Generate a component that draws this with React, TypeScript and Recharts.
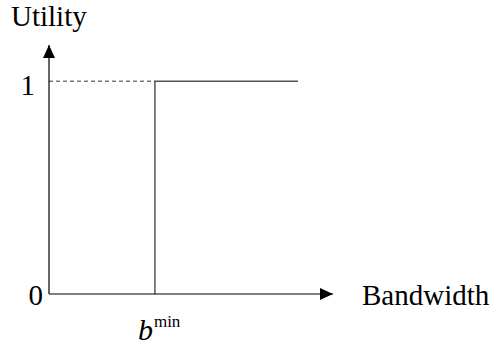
import { LineChart, Line, XAxis, YAxis, ReferenceDot, Label } from 'recharts';

// bandwidth axis runs 0..100, utility axis 0..1.17 (arrow tips at the ends)
const bMin = 37.3;
const bMax = 87.7;
const xEnd = 100;
const yEnd = 1.17;

const stepData = [
  { bw: bMin, utility: 0 },
  { bw: bMin, utility: 1 },
  { bw: bMax, utility: 1 },
];
const guideData = [
  { bw: 0, utility: 1 },
  { bw: bMin, utility: 1 },
];
const yTicks = [0, 1];
const xTicks = [bMin];

const font = '"Liberation Serif", "Times New Roman", serif';

const ArrowRight = (p: any) => (
  <polygon points={`${p.cx},${p.cy} ${p.cx - 13},${p.cy - 6} ${p.cx - 13},${p.cy + 6}`} fill="#000" />
);
const ArrowUp = (p: any) => (
  <polygon points={`${p.cx},${p.cy} ${p.cx - 6},${p.cy + 13} ${p.cx + 6},${p.cy + 13}`} fill="#000" />
);

const BTick = (p: any) => (
  <text x={p.x - 17} y={p.y + 38} fontFamily={font} fill="#000" textAnchor="start">
    <tspan fontSize={30} fontStyle="italic">b</tspan>
    <tspan fontSize={17} dx={1} dy={-13}>min</tspan>
  </text>
);

const UTick = (p: any) => {
  const v = p.payload.value;
  return (
    <text
      x={p.x + (v === 0 ? 2 : -6)}
      y={p.y + (v === 0 ? 11 : 14)}
      fontFamily={font}
      fontSize={29}
      fill="#000"
      textAnchor="end"
    >
      {v}
    </text>
  );
};

export default function App() {
  return (
    <div style={{ position: 'absolute', left: 0, top: 0, background: '#fff' }}>
      <LineChart
        width={493}
        height={344}
        margin={{ top: 45, right: 160, bottom: 0, left: 0 }}
      >
        <XAxis
          type="number"
          dataKey="bw"
          domain={[0, xEnd]}
          ticks={xTicks}
          tick={<BTick />}
          tickLine={false}
          axisLine={{ stroke: '#000', strokeWidth: 1.2 }}
          allowDataOverflow
          height={50}
        >
          <Label
            content={() => (
              <text x={362} y={305} fontFamily={font} fontSize={29} fill="#000">Bandwidth</text>
            )}
          />
        </XAxis>
        <YAxis
          type="number"
          domain={[0, yEnd]}
          ticks={yTicks}
          tickLine={false}
          axisLine={{ stroke: '#000', strokeWidth: 1.2 }}
          tick={<UTick />}
          allowDataOverflow
          width={49}
        >
          <Label
            content={() => (
              <text x={11} y={26} fontFamily={font} fontSize={29} fill="#000">Utility</text>
            )}
          />
        </YAxis>
        <Line
          data={guideData}
          dataKey="utility"
          type="linear"
          stroke="#333"
          strokeWidth={1}
          strokeDasharray="4 3"
          dot={false}
          isAnimationActive={false}
        />
        <Line
          data={stepData}
          dataKey="utility"
          type="linear"
          stroke="#555"
          strokeWidth={1.5}
          dot={false}
          isAnimationActive={false}
        />
        <ReferenceDot x={xEnd} y={0} shape={<ArrowRight />} ifOverflow="visible" />
        <ReferenceDot x={0} y={yEnd} shape={<ArrowUp />} ifOverflow="visible" />
      </LineChart>
    </div>
  );
}
